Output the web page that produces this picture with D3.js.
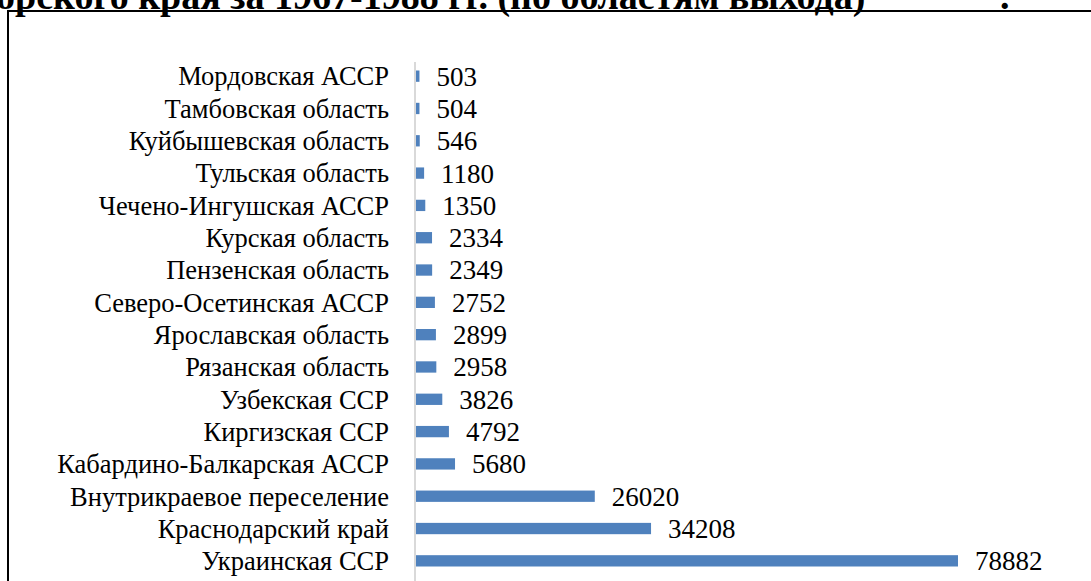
<!DOCTYPE html>
<html><head><meta charset="utf-8">
<script src="https://cdn.jsdelivr.net/npm/d3@7"></script>
<style>html,body{margin:0;padding:0;background:#fff;overflow:hidden}</style>
</head><body>
<script>
const categories = ["Мордовская АССР","Тамбовская область","Куйбышевская область","Тульская область","Чечено-Ингушская АССР","Курская область","Пензенская область","Северо-Осетинская АССР","Ярославская область","Рязанская область","Узбекская ССР","Киргизская ССР","Кабардино-Балкарская АССР","Внутрикраевое переселение","Краснодарский край","Украинская ССР"];
const values = [503,504,546,1180,1350,2334,2349,2752,2899,2958,3826,4792,5680,26020,34208,78882];
const titleText = "орского края за 1967-1988 гг. (по областям выхода)";

const W = 1091, H = 581;
const SERIF = "'Liberation Serif', 'Times New Roman', 'DejaVu Serif', serif";
const svg = d3.select("body").append("svg").attr("width", W).attr("height", H);

// title (clipped at top of page)
svg.append("text").attr("x", -4).attr("y", 9)
  .style("font-family", SERIF).style("font-weight", "bold").style("font-size", "38px")
  .text(titleText);
svg.append("text").attr("x", 1000).attr("y", 9)
  .style("font-family", SERIF).style("font-weight", "bold").style("font-size", "38px")
  .text(".");

// frame
svg.append("line").attr("x1", 8).attr("x2", W).attr("y1", 11).attr("y2", 11).attr("stroke", "#000").attr("stroke-width", 2);
svg.append("line").attr("x1", 8).attr("x2", 8).attr("y1", 10).attr("y2", H).attr("stroke", "#000").attr("stroke-width", 2);

const x0 = 416;
const x = d3.scaleLinear().domain([0, 78882]).range([x0, 958]);
const y = d3.scaleBand().domain(categories).range([60, 577]).paddingInner(0.65).paddingOuter(0.325);

// axis line
svg.append("line").attr("x1", x0 - 1).attr("x2", x0 - 1).attr("y1", 62).attr("y2", H)
  .attr("stroke", "#D9D9D9").attr("stroke-width", 2);

svg.selectAll("rect.bar").data(values).enter().append("rect")
  .attr("class", "bar")
  .attr("x", x0)
  .attr("y", (d, i) => y(categories[i]))
  .attr("width", d => x(d) - x0)
  .attr("height", y.bandwidth())
  .attr("fill", "#4F81BD");

const yAxis = d3.axisLeft(y).tickSize(0).tickPadding(0);
const g = svg.append("g").attr("transform", `translate(389,0)`).call(yAxis);
g.select(".domain").remove();
g.attr("font-family", null).attr("font-size", null);
g.selectAll("text").style("font-family", SERIF).style("font-size", "26.5px").attr("fill", "#000").attr("dy", "0.35em");

svg.selectAll("text.val").data(values).enter().append("text")
  .attr("class", "val")
  .attr("x", d => x(d) + 17)
  .attr("y", (d, i) => y(categories[i]) + y.bandwidth() / 2)
  .attr("dy", "0.35em")
  .style("font-family", SERIF).style("font-size", "27px")
  .text(d => d);
</script>
</body></html>
